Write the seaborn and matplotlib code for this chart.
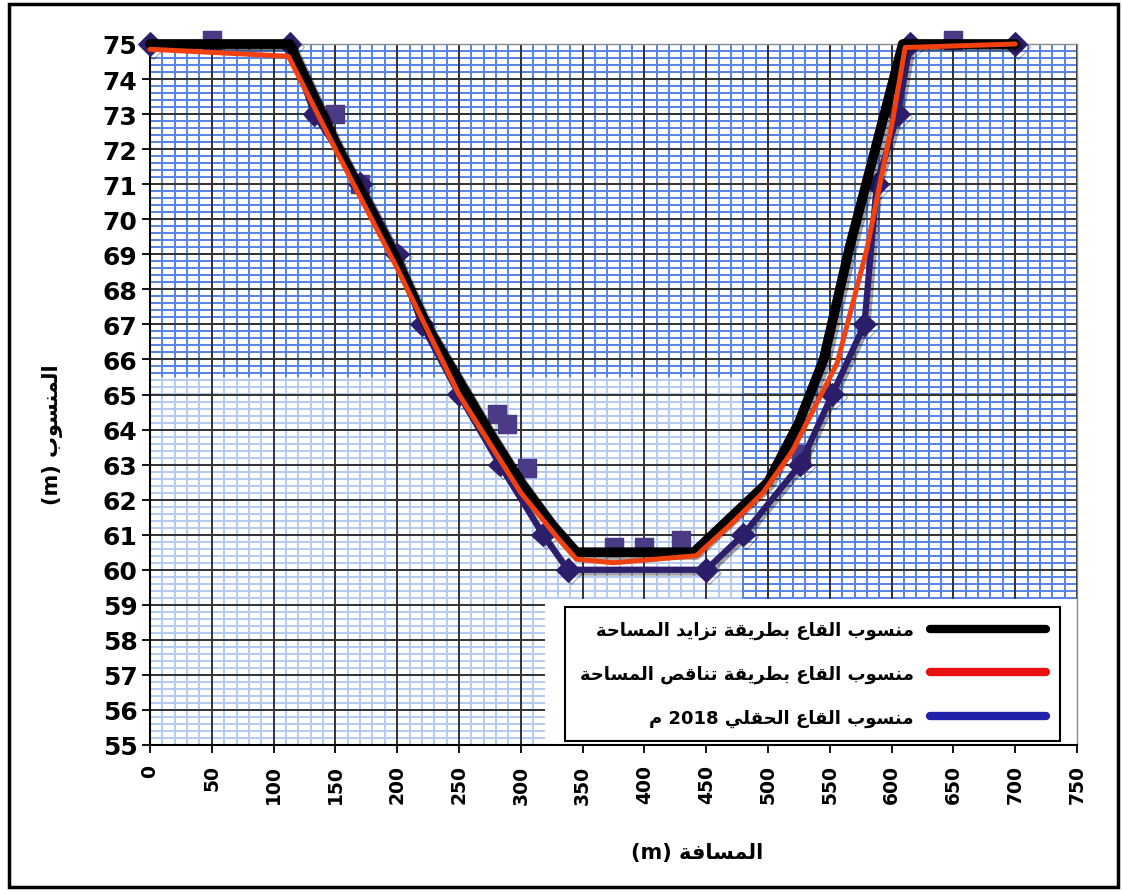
import numpy as np
import pandas as pd
import seaborn as sns
import matplotlib
matplotlib.use("Agg")
import matplotlib.pyplot as plt
from matplotlib.collections import LineCollection
from matplotlib.patches import Rectangle
import matplotlib.patheffects as pe

# ---------------- data ----------------
inc_x = [0, 113, 150, 175, 200, 225, 250, 275, 300, 325, 345, 440, 470, 500, 525, 545, 566, 609, 700]
inc_y = [75, 75, 72.2, 70.5, 68.8, 66.9, 65.4, 63.9, 62.5, 61.3, 60.5, 60.5, 61.5, 62.5, 64.2, 66.0, 69.2, 75, 75]

dec_x = [0, 112, 150, 200, 250, 300, 330, 345, 375, 442, 470, 496, 520, 556, 580, 601, 611, 700]
dec_y = [74.85, 74.65, 72.0, 68.6, 65.0, 62.2, 60.9, 60.3, 60.2, 60.4, 61.3, 62.2, 63.4, 65.9, 69.15, 72.85, 74.9, 75.0]

fld_x = [0, 113, 133, 170, 200, 220, 250, 283, 318, 338, 450, 480, 526, 552, 578, 588, 605, 615, 700]
fld_y = [75, 75, 73, 71, 69, 67, 65, 63, 61, 60, 60, 61, 63, 65, 67, 71, 73, 75, 75]

sq_x = [50, 150, 170, 281, 289, 305, 375, 400, 430, 527, 650]
sq_y = [75.1, 73.0, 71.0, 64.45, 64.15, 62.9, 60.65, 60.65, 60.85, 63.3, 75.1]

x_ticks = list(range(0, 751, 50))
y_ticks = list(range(55, 76, 1))

lbl_inc = "منسوب القاع بطريقة تزايد المساحة"
lbl_dec = "منسوب القاع بطريقة تناقص المساحة"
lbl_fld = "منسوب القاع الحقلي 2018 م"
xlabel = "المسافة (m)"
ylabel = "المنسوب (m)"

# ---------------- Arabic shaping (presentation forms, visual order) ----------------
FORMS = {
    'ا': ('\uFE8D', '\uFE8E', None, None),
    'ب': ('\uFE8F', '\uFE90', '\uFE91', '\uFE92'),
    'ة': ('\uFE93', '\uFE94', None, None),
    'ت': ('\uFE95', '\uFE96', '\uFE97', '\uFE98'),
    'ح': ('\uFEA1', '\uFEA2', '\uFEA3', '\uFEA4'),
    'د': ('\uFEA9', '\uFEAA', None, None),
    'ر': ('\uFEAD', '\uFEAE', None, None),
    'ز': ('\uFEAF', '\uFEB0', None, None),
    'س': ('\uFEB1', '\uFEB2', '\uFEB3', '\uFEB4'),
    'ص': ('\uFEB9', '\uFEBA', '\uFEBB', '\uFEBC'),
    'ط': ('\uFEC1', '\uFEC2', '\uFEC3', '\uFEC4'),
    'ع': ('\uFEC9', '\uFECA', '\uFECB', '\uFECC'),
    'ف': ('\uFED1', '\uFED2', '\uFED3', '\uFED4'),
    'ق': ('\uFED5', '\uFED6', '\uFED7', '\uFED8'),
    'ل': ('\uFEDD', '\uFEDE', '\uFEDF', '\uFEE0'),
    'م': ('\uFEE1', '\uFEE2', '\uFEE3', '\uFEE4'),
    'ن': ('\uFEE5', '\uFEE6', '\uFEE7', '\uFEE8'),
    'و': ('\uFEED', '\uFEEE', None, None),
    'ي': ('\uFEF1', '\uFEF2', '\uFEF3', '\uFEF4'),
}


def shape_word(w):
    out = []
    for i, c in enumerate(w):
        if c not in FORMS:
            out.append(c)
            continue
        prev = w[i - 1] if i > 0 else None
        nxt = w[i + 1] if i + 1 < len(w) else None
        jp = prev in FORMS and FORMS[prev][2] is not None
        jn = FORMS[c][2] is not None and nxt in FORMS
        f = FORMS[c]
        if jp and jn:
            out.append(f[3])
        elif jp:
            out.append(f[1])
        elif jn:
            out.append(f[2])
        else:
            out.append(f[0])
    return ''.join(out)


def ar(s):
    toks = s.split(' ')
    conv = [shape_word(t)[::-1] if any(ch in FORMS for ch in t) else t for t in toks]
    return ' '.join(reversed(conv))


# ---------------- figure ----------------
sns.set_theme(style="white")
plt.rcParams['font.family'] = ['DejaVu Sans']
plt.rcParams['text.color'] = 'black'
plt.rcParams['axes.labelcolor'] = 'black'
plt.rcParams['xtick.color'] = 'black'
plt.rcParams['ytick.color'] = 'black'

fig = plt.figure(figsize=(11.23, 8.95), dpi=100)
ax = fig.add_axes([150 / 1123, 1 - 746 / 895, 927 / 1123, 701 / 895])
ax.set_xlim(0, 750)
ax.set_ylim(55, 75)

# minor grid (blue), lighter in the lower-left region
dark = '#5582e4'
light = '#b3caf1'
xb, yb = 480, 65.5
segs_d, segs_l = [], []
for xv in np.arange(0, 751, 10):
    if xv < xb:
        segs_d.append([(xv, yb), (xv, 75)])
        segs_l.append([(xv, 55), (xv, yb)])
    else:
        segs_d.append([(xv, 55), (xv, 75)])
for yv in np.arange(55, 75.001, 0.2):
    if yv < yb:
        segs_l.append([(0, yv), (xb, yv)])
        segs_d.append([(xb, yv), (750, yv)])
    else:
        segs_d.append([(0, yv), (750, yv)])
ax.add_collection(LineCollection(segs_l, colors=light, linewidths=1.4, zorder=1))
ax.add_collection(LineCollection(segs_d, colors=dark, linewidths=1.4, zorder=1))

# major grid (black)
ax.vlines(x_ticks, 55, 75, colors='#333333', linewidth=1.4, zorder=1.2)
ax.hlines(y_ticks, 0, 750, colors='#333333', linewidth=1.4, zorder=1.2)

# white panel behind legend
ax.add_patch(Rectangle(((545 - 150) / 927, 0), 1 - (545 - 150) / 927, (746 - 600) / 701,
                       transform=ax.transAxes, facecolor='white', edgecolor='none', zorder=1.5))

shadow = [pe.SimpleLineShadow(offset=(2, -2), shadow_color='#000000', alpha=0.35), pe.Normal()]

sns.lineplot(x=fld_x, y=fld_y, sort=False, estimator=None, color='#2d1e6b', linewidth=4.5,
             marker='D', markersize=12, markeredgecolor='#2d1e6b', ax=ax, label=ar(lbl_fld), zorder=3,
             path_effects=shadow, clip_on=False)
sns.scatterplot(x=sq_x, y=sq_y, marker='s', s=170, color='#4b3a85', edgecolor='#4b3a85', ax=ax,
                zorder=2.9, legend=False, clip_on=False)
sns.lineplot(x=inc_x, y=inc_y, sort=False, estimator=None, color='black', linewidth=7,
             ax=ax, label=ar(lbl_inc), zorder=4, path_effects=shadow, clip_on=False)
sns.lineplot(x=dec_x, y=dec_y, sort=False, estimator=None, color='#f2400f', linewidth=3.6,
             ax=ax, label=ar(lbl_dec), zorder=5, clip_on=False)

# spines and ticks
for s in ['top', 'right']:
    ax.spines[s].set_color('#8a8a8a')
    ax.spines[s].set_linewidth(1.0)
for s in ['left', 'bottom']:
    ax.spines[s].set_color('black')
    ax.spines[s].set_linewidth(1.5)
for s in ax.spines.values():
    s.set_zorder(2.5)

ax.set_xticks(x_ticks)
ax.set_yticks(y_ticks)
ax.set_xticklabels([str(v) for v in x_ticks], rotation=90, fontfamily='DejaVu Sans',
                   fontweight='bold', fontsize=13.5, color='black')
ax.set_yticklabels([str(v) for v in y_ticks], fontfamily='DejaVu Sans', fontweight='bold',
                   fontsize=18, color='black')
ax.tick_params(axis='both', direction='out', length=6, width=1.3, color='black',
               bottom=True, left=True)
ax.tick_params(axis='x', pad=8)
ax.tick_params(axis='y', pad=3)

ax.set_xlabel(ar(xlabel), fontsize=15, fontweight='bold', family=['DejaVu Sans'], color='black')
ax.set_ylabel(ar(ylabel), fontsize=15, fontweight='bold', family=['DejaVu Sans'], color='black')
ax.xaxis.set_label_coords((697 - 150) / 927, (746 - 843) / 701)
ax.yaxis.set_label_coords((63 - 150) / 927, (746 - 435) / 701)

# legend
h, l = ax.get_legend_handles_labels()
order = [l.index(ar(lbl_inc)), l.index(ar(lbl_dec)), l.index(ar(lbl_fld))]
leg = ax.legend([h[i] for i in order], [l[i] for i in order], loc='lower right',
                bbox_to_anchor=((1060 - 150) / 927, (746 - 742) / 701), borderaxespad=0,
                markerfirst=False, frameon=True, fancybox=False, framealpha=1,
                edgecolor='black', facecolor='white', handlelength=6.4, handletextpad=0.9,
                labelspacing=1.4, borderpad=0.8,
                prop={'family': 'DejaVu Sans', 'weight': 'bold', 'size': 13})
leg.get_frame().set_linewidth(1.5)
leg.set_zorder(7)
for t in leg.get_texts():
    t.set_color('black')
for line, col in zip(leg.get_lines(), ['black', '#e81010', '#2121aa']):
    line.set_color(col)
    line.set_linewidth(6)
    line.set_solid_capstyle('round')
    line.set_marker('')
    line.set_path_effects([])

# outer border of the figure
fig.add_artist(Rectangle((9 / 1123, 7 / 895), 1109 / 1123, 883 / 895, transform=fig.transFigure,
                         fill=False, edgecolor='black', linewidth=2.5))

fig.savefig('out.png', dpi=100)
